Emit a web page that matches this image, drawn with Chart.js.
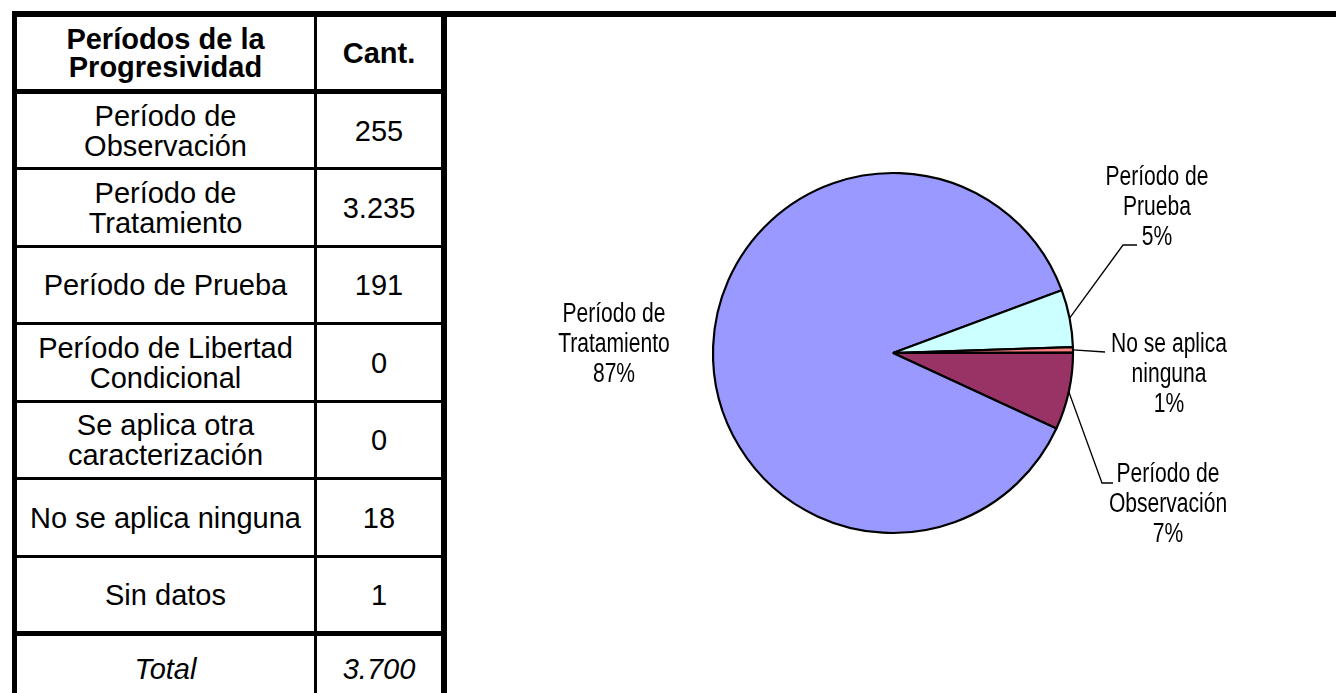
<html>
<head>
    <meta charset="utf-8">
    <script src="https://cdn.jsdelivr.net/npm/chart.js"></script>
    <style>
        body { margin: 0; background: #fff; font-family: 'Liberation Sans', Arial, sans-serif; }
        #topLine { position: absolute; left: 12px; top: 11px; width: 1324px; height: 6px; background: #000; }
        #tbl { position: absolute; left: 12px; top: 11px; width: 435px; height: 690px; background: #000; }
        .cell { position: absolute; background: #fff; display: flex; align-items: center; justify-content: center;
                text-align: center; font-size: 29px; line-height: 30px; white-space: pre-line; color: #000; }
        .head { font-weight: bold; line-height: 28px; }
        .tot { font-style: italic; }
        #wrap { position: absolute; left: 460px; top: 20px; width: 866px; height: 666px; }
    </style>
</head>
<body>
    <div id="topLine"></div>
    <div id="tbl"></div>
    <div id="wrap"><canvas id="myChart" width="866" height="666"></canvas></div>
    <script>
        // 데이터
        const categories = ['Período de\nObservación', 'Período de\nTratamiento', 'Período de Prueba',
            'Período de Libertad\nCondicional', 'Se aplica otra\ncaracterización', 'No se aplica ninguna', 'Sin datos'];
        const counts = [255, 3235, 191, 0, 0, 18, 1];
        const countText = ['255', '3.235', '191', '0', '0', '18', '1'];
        const totalText = '3.700';
        const headText = ['Períodos de la\nProgresividad', 'Cant.'];
        const pieNames = [['Período de', 'Observación'], ['Período de', 'Tratamiento'], ['Período de', 'Prueba'],
            null, null, ['No se aplica', 'ninguna'], null];
        const pctText = ['7%', '87%', '5%', '', '', '1%', ''];
        const sliceColors = ['#993366', '#9999FF', '#CCFFFF', '#FFFFCC', '#660066', '#FF8080', '#0066CC'];

        // 표 그리기 (행 위치: 위/아래 y, 표 기준)
        const rowBox = [[6, 78], [83, 156], [159, 234], [237, 311], [314, 389], [392, 466], [469, 544], [547, 620], [625, 690]];
        const tbl = document.getElementById('tbl');
        function addCell(text, row, col, cls) {
            const d = document.createElement('div');
            d.className = 'cell ' + (cls || '');
            d.style.left = (col === 0 ? 5 : 305) + 'px';
            d.style.width = (col === 0 ? 297 : 124) + 'px';
            d.style.top = rowBox[row][0] + 'px';
            d.style.height = (rowBox[row][1] - rowBox[row][0]) + 'px';
            d.textContent = text;
            tbl.appendChild(d);
        }
        addCell(headText[0], 0, 0, 'head');
        addCell(headText[1], 0, 1, 'head');
        categories.forEach((c, i) => {
            addCell(c, i + 1, 0);
            addCell(countText[i], i + 1, 1);
        });
        addCell('Total', 8, 0, 'tot');
        addCell(totalText, 8, 1, 'tot');

        // 라벨 위치 (원 중심 기준)
        const labelPos = {
            0: { x: 275, y: 122, line: [[209, 130], [220, 130]] },
            1: { x: -279, y: -38 },
            2: { x: 264, y: -175, line: [[230, -108], [244, -108]] },
            5: { x: 276, y: -8, line: [[212, -1]] }
        };

        const pieLabelPlugin = {
            id: 'pieLabels',
            afterDatasetsDraw(chart) {
                const ctx = chart.ctx;
                const meta = chart.getDatasetMeta(0);
                meta.data.forEach((arc, i) => {
                    const pos = labelPos[i];
                    if (!pos || !pieNames[i]) return;
                    const cx = arc.x, cy = arc.y;
                    ctx.save();
                    if (pos.line) {
                        const mid = (arc.startAngle + arc.endAngle) / 2;
                        ctx.beginPath();
                        ctx.moveTo(cx + Math.cos(mid) * arc.outerRadius, cy + Math.sin(mid) * arc.outerRadius);
                        pos.line.forEach(p => ctx.lineTo(cx + p[0], cy + p[1]));
                        ctx.strokeStyle = '#000';
                        ctx.lineWidth = 1.3;
                        ctx.stroke();
                    }
                    const lines = pieNames[i].concat([pctText[i]]);
                    ctx.fillStyle = '#000';
                    ctx.font = '27px "Liberation Sans", Arial, sans-serif';
                    ctx.textAlign = 'center';
                    ctx.textBaseline = 'middle';
                    lines.forEach((t, k) => {
                        ctx.save();
                        ctx.translate(cx + pos.x, cy + pos.y + k * 30);
                        ctx.scale(0.78, 1);
                        ctx.fillText(t, 0, 0);
                        ctx.restore();
                    });
                    ctx.restore();
                });
            }
        };

        new Chart(document.getElementById('myChart'), {
            type: 'pie',
            data: {
                labels: categories,
                datasets: [{
                    data: counts,
                    backgroundColor: sliceColors,
                    borderColor: '#000',
                    borderWidth: 2.2,
                    radius: 180
                }]
            },
            options: {
                responsive: false,
                animation: false,
                rotation: 90,
                events: [],
                plugins: {
                    legend: { display: false },
                    tooltip: { enabled: false }
                }
            },
            plugins: [pieLabelPlugin]
        });
    </script>
</body>
</html>
